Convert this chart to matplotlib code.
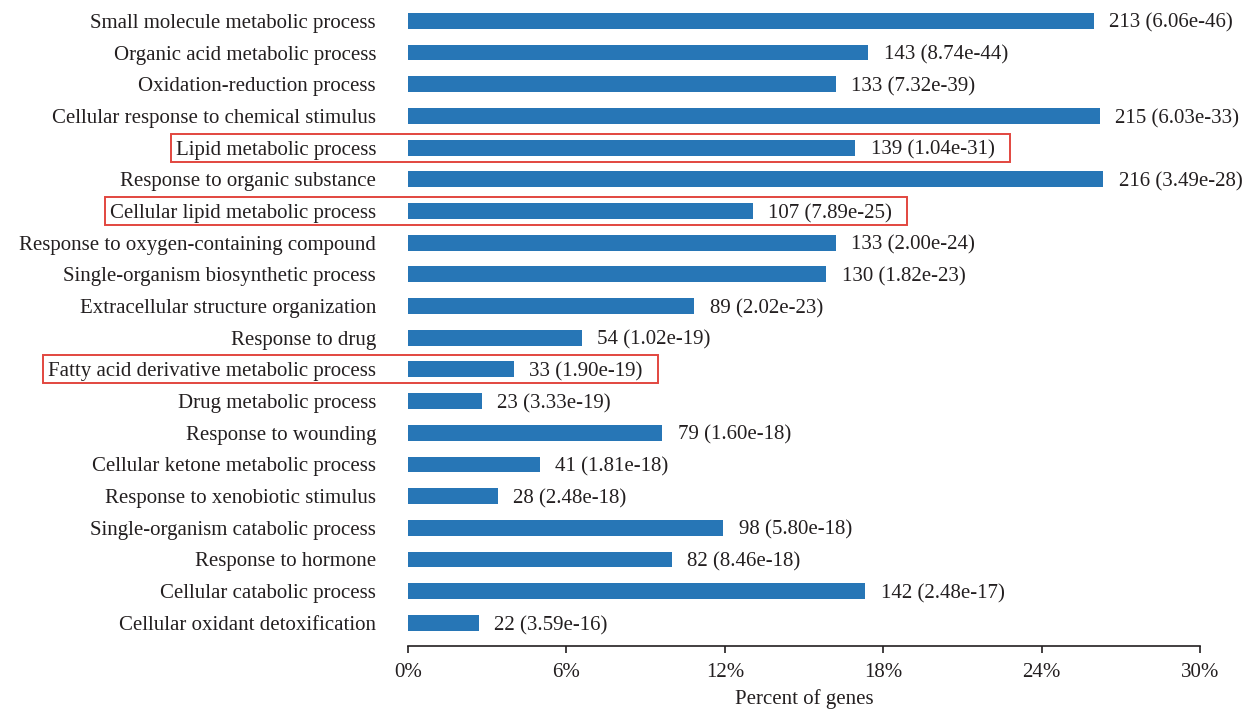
import matplotlib
matplotlib.use("Agg")
import matplotlib.pyplot as plt
from matplotlib.patches import Rectangle
from matplotlib.ticker import FuncFormatter

categories = [
    "Small molecule metabolic process",
    "Organic acid metabolic process",
    "Oxidation-reduction process",
    "Cellular response to chemical stimulus",
    "Lipid metabolic process",
    "Response to organic substance",
    "Cellular lipid metabolic process",
    "Response to oxygen-containing compound",
    "Single-organism biosynthetic process",
    "Extracellular structure organization",
    "Response to drug",
    "Fatty acid derivative metabolic process",
    "Drug metabolic process",
    "Response to wounding",
    "Cellular ketone metabolic process",
    "Response to xenobiotic stimulus",
    "Single-organism catabolic process",
    "Response to hormone",
    "Cellular catabolic process",
    "Cellular oxidant detoxification",
]
percents = [25.98, 17.44, 16.22, 26.22, 16.95, 26.34, 13.05, 16.22, 15.85, 10.85,
            6.59, 4.02, 2.80, 9.63, 5.00, 3.41, 11.95, 10.00, 17.32, 2.68]
counts = [213, 143, 133, 215, 139, 216, 107, 133, 130, 89,
          54, 33, 23, 79, 41, 28, 98, 82, 142, 22]
pvalues = ["6.06e-46", "8.74e-44", "7.32e-39", "6.03e-33", "1.04e-31", "3.49e-28",
           "7.89e-25", "2.00e-24", "1.82e-23", "2.02e-23", "1.02e-19", "1.90e-19",
           "3.33e-19", "1.60e-18", "1.81e-18", "2.48e-18", "5.80e-18", "8.46e-18",
           "2.48e-17", "3.59e-16"]
highlighted = ["Lipid metabolic process", "Cellular lipid metabolic process",
               "Fatty acid derivative metabolic process"]
xticks = [0, 6, 12, 18, 24, 30]
xlabel = "Percent of genes"

plt.rcParams['font.family'] = ['Liberation Serif', 'DejaVu Serif']
text_color = "#231f20"
bar_color = "#2776b6"
fs = 15

W, H = 1246, 709
fig = plt.figure(figsize=(W / 100, H / 100), dpi=100)
ax = fig.add_axes([408 / W, 63 / H, 792 / W, 641 / H])

y = list(range(len(categories)))
ax.barh(y, percents, height=0.5, color=bar_color)
ax.set_ylim(19.73, -0.5)
ax.set_xlim(0, 30)
ax.set_yticks(y)
ax.set_yticklabels(categories, fontsize=fs, color=text_color, va="center_baseline")
ax.set_xticks(xticks)
ax.xaxis.set_major_formatter(FuncFormatter(lambda v, p: f"{v:.0f}%"))
ax.tick_params(axis='x', labelsize=fs, colors=text_color, length=5, width=1.2, pad=7)
ax.tick_params(axis='y', length=0, pad=23)
for s in ["top", "right", "left"]:
    ax.spines[s].set_visible(False)
ax.spines["bottom"].set_linewidth(1.2)
ax.spines["bottom"].set_color(text_color)
ax.set_xlabel(xlabel, fontsize=fs, color=text_color, labelpad=5)

annots = []
for yi, p, c, pv in zip(y, percents, counts, pvalues):
    t = ax.annotate(f"{c} ({pv})", xy=(p, yi), xytext=(11, 0), textcoords="offset points",
                    va="center_baseline", ha="left", fontsize=fs, color=text_color)
    annots.append(t)

fig.canvas.draw()
r = fig.canvas.get_renderer()
ticklabels = ax.get_yticklabels()
for name in highlighted:
    i = categories.index(name)
    lb = ticklabels[i].get_window_extent(r)
    ab = annots[i].get_window_extent(r)
    cy = ax.transData.transform((0, i))[1]
    x0 = lb.x0 - 5
    x1 = ab.x1 + 15
    h = 28
    rect = Rectangle((x0, cy - h / 2), x1 - x0, h, transform=None, fill=False,
                     edgecolor="#e2463f", linewidth=1.4)
    fig.patches.append(rect)

fig.savefig("out.png", dpi=100)
